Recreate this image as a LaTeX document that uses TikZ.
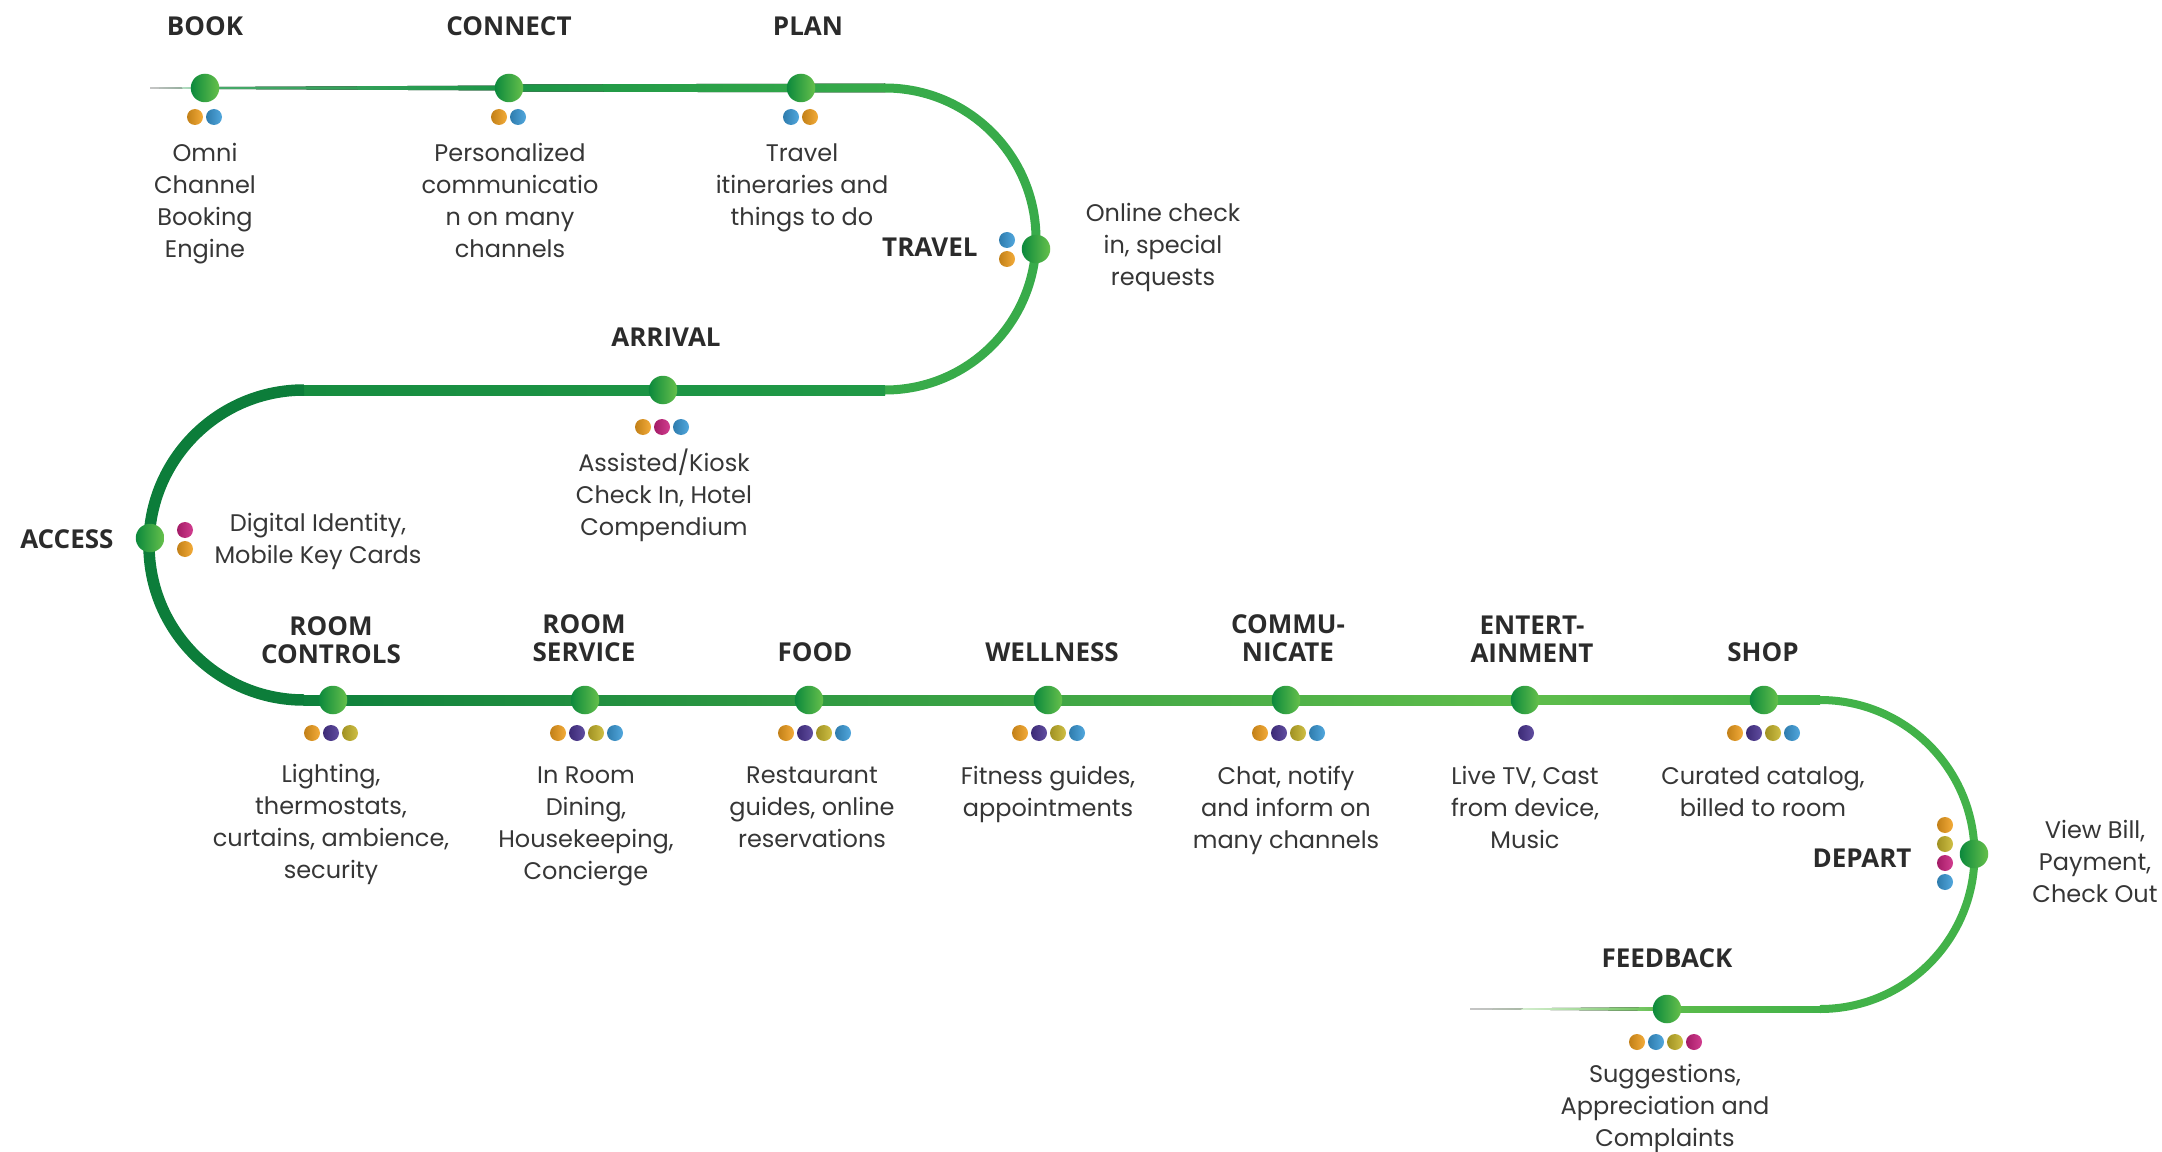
\documentclass[tikz,border=0pt]{standalone}
\usepackage{fontspec}
\setmainfont{Poppins}
\newfontfamily\headfont{Open Sans}
\usetikzlibrary{calc}
\definecolor{txt}{HTML}{363636}
\definecolor{head}{HTML}{2B2B2B}
\definecolor{nodeD}{HTML}{0B893C}
\definecolor{nodeL}{HTML}{66C04B}
\definecolor{cor}{HTML}{F2A01E}
\definecolor{cbl}{HTML}{3A9BD8}
\definecolor{cmg}{HTML}{CC2380}
\definecolor{cpu}{HTML}{4B3593}
\definecolor{col}{HTML}{C8B62B}
\definecolor{gA}{HTML}{1B9546}
\definecolor{gB}{HTML}{38AB4A}
\definecolor{gDark}{HTML}{0C7D3A}
\definecolor{gMid}{HTML}{168C40}
\definecolor{gLight}{HTML}{5FBD4B}
\definecolor{gR}{HTML}{42B249}
\tikzset{
  stopnode/.style={circle, inner sep=0pt, minimum size=11.4pt, left color=nodeD, right color=nodeL, draw=none},
  dotnode/.style={circle, inner sep=0pt, minimum size=6.4pt, draw=none},
  desc/.style={inner sep=0pt, align=center, text=txt, font=\fontsize{9.6pt}{12.8pt}\selectfont},
  heading/.style={inner sep=0pt, align=center, text=head, font=\headfont\bfseries\fontsize{10.4pt}{11.2pt}\selectfont},
}
\newcommand\hdotrow[4]{\foreach \c [count=\i] in {#4} {\node[dotnode, left color=\c!80!black, right color=\c!88!white] (#1-\i) at ({#2+(\i-1)*19},#3) {};}}
\newcommand\vdotrow[4]{\foreach \c [count=\i] in {#4} {\node[dotnode, left color=\c!80!black, right color=\c!88!white] (#1-\i) at (#2,{#3+(\i-1)*19}) {};}}
\begin{document}
\begin{tikzpicture}[x=0.4pt,y=-0.4pt]
\path[use as bounding box] (0,0) rectangle (2162,1152);
% path coordinates
\coordinate (tstart) at (150,88);
\coordinate (tarc) at (885,88);
\coordinate (marc) at (885,390);
\coordinate (marcL) at (304,390);
\coordinate (barcL) at (304,700);
\coordinate (barcR) at (1820,700);
\coordinate (farcR) at (1820,1009);
\coordinate (fend) at (1470,1009);
\coordinate (bookp) at (205,88);
\coordinate (connectp) at (509,88);
\coordinate (entp) at (1525,700);
\coordinate (feedp) at (1667,1009);
% line pieces
\fill[left color=white, right color=gA!55!white] ($(tstart)+(0,-0.4)$) -- ($(bookp)+(0,-1)$) -- ($(bookp)+(0,1)$) -- ($(tstart)+(0,0.4)$) -- cycle;
\fill[left color=gA!80!white, right color=gA] ($(bookp)+(0,-1)$) -- ($(connectp)+(0,-2.5)$) -- ($(connectp)+(0,2.5)$) -- ($(bookp)+(0,1)$) -- cycle;
\fill[left color=gA, right color=gB] ($(connectp)+(0,-3.5)$) -- ($(tarc)+(0,-4.5)$) -- ($(tarc)+(0,4.5)$) -- ($(connectp)+(0,3.5)$) -- cycle;
\draw[gB, line width=3.6pt] (tarc) arc[start angle=90, end angle=-90, radius=60.4pt];
\fill[left color=gMid, right color=gA!80!gB] ($(marcL)+(0,-5)$) rectangle ($(marc)+(0,5)$);
\draw[gDark, line width=4.6pt] (marcL) arc[start angle=90, end angle=270, radius=62pt];
\fill[left color=gDark!85!gA, right color=gLight] ($(barcL)+(0,-5)$) rectangle ($(entp)+(0,5)$);
\fill[left color=gLight, right color=gR] ($(entp)+(0,-5)$) rectangle ($(barcR)+(0,4.5)$);
\draw[gR, line width=3.2pt] (barcR) arc[start angle=90, end angle=-90, radius=61.8pt];
\fill[left color=gLight!90!gR, right color=gR] ($(feedp)+(0,-3)$) rectangle ($(farcR)+(0,3.8)$);
\fill[left color=white, right color=gLight] ($(fend)+(0,-0.3)$) -- ($(feedp)+(0,-2)$) -- ($(feedp)+(0,2)$) -- ($(fend)+(0,0.3)$) -- cycle;
% stops
\node[stopnode] (book) at (205,88) {};
\node[stopnode] (connect) at (509,88) {};
\node[stopnode] (plan) at (801,88) {};
\node[stopnode] (travel) at (1036,249) {};
\node[stopnode] (arrival) at (663,390) {};
\node[stopnode] (access) at (150,538) {};
\node[stopnode] (roomc) at (333,700) {};
\node[stopnode] (rooms) at (585,700) {};
\node[stopnode] (food) at (809,700) {};
\node[stopnode] (well) at (1048,700) {};
\node[stopnode] (comm) at (1286,700) {};
\node[stopnode] (ent) at (1525,700) {};
\node[stopnode] (shop) at (1764,700) {};
\node[stopnode] (depart) at (1974,854) {};
\node[stopnode] (feedback) at (1667,1009) {};
% dots
\hdotrow{bookd}{195}{117}{cor,cbl}
\hdotrow{connectd}{499}{117}{cor,cbl}
\hdotrow{pland}{791}{117}{cbl,cor}
\vdotrow{traveld}{1007}{240}{cbl,cor}
\hdotrow{arrivald}{643}{427}{cor,cmg,cbl}
\vdotrow{accessd}{185}{530}{cmg,cor}
\hdotrow{roomcd}{312}{733}{cor,cpu,col}
\hdotrow{roomsd}{558}{733}{cor,cpu,col,cbl}
\hdotrow{foodd}{786}{733}{cor,cpu,col,cbl}
\hdotrow{welld}{1020}{733}{cor,cpu,col,cbl}
\hdotrow{commd}{1260}{733}{cor,cpu,col,cbl}
\hdotrow{entd}{1526}{733}{cpu}
\hdotrow{shopd}{1735}{733}{cor,cpu,col,cbl}
\vdotrow{departd}{1945}{825}{cor,col,cmg,cbl}
\hdotrow{feedbackd}{1637}{1042}{cor,cbl,col,cmg}
% headings
\node[heading, anchor=south] (bookh) at (205,36) {BOOK};
\node[heading, anchor=south] (connecth) at (509,36) {CONNECT};
\node[heading, anchor=south] (planh) at (808,36) {PLAN};
\node[heading, anchor=south east] (travelh) at (978,257) {TRAVEL};
\node[heading, anchor=south] (arrivalh) at (666,347) {ARRIVAL};
\node[heading, anchor=south east] (accessh) at (114,549) {ACCESS};
\node[heading, anchor=south] (roomch) at (331,664) {ROOM\\CONTROLS};
\node[heading, anchor=south] (roomsh) at (584,662) {ROOM\\SERVICE};
\node[heading, anchor=south] (foodh) at (815,662) {FOOD};
\node[heading, anchor=south] (wellh) at (1052,662) {WELLNESS};
\node[heading, anchor=south] (commh) at (1288,662) {COMMU-\\NICATE};
\node[heading, anchor=south] (enth) at (1532,663) {ENTERT-\\AINMENT};
\node[heading, anchor=south] (shoph) at (1763,662) {SHOP};
\node[heading, anchor=south east] (departh) at (1912,868) {DEPART};
\node[heading, anchor=south] (feedbackh) at (1667,968) {FEEDBACK};
% descriptions
\node[desc, anchor=north] (bookt) at (205,143) {Omni\\Channel\\Booking\\Engine};
\node[desc, anchor=north] (connectt) at (510,143) {Personalized\\communicatio\\n on many\\channels};
\node[desc, anchor=north] (plant) at (802,143) {Travel\\itineraries and\\things to do};
\node[desc, anchor=north] (travelt) at (1163,203) {Online check\\in, special\\requests};
\node[desc, anchor=north] (arrivalt) at (664,448) {Assisted/Kiosk\\Check In, Hotel\\Compendium};
\node[desc, anchor=north] (accesst) at (318,513) {Digital Identity,\\Mobile Key Cards};
\node[desc, anchor=north] (roomct) at (331,764) {Lighting,\\thermostats,\\curtains, ambience,\\security};
\node[desc, anchor=north] (roomst) at (586,766) {In Room\\Dining,\\Housekeeping,\\Concierge};
\node[desc, anchor=north] (foodt) at (812,766) {Restaurant\\guides, online\\reservations};
\node[desc, anchor=north] (wellt) at (1048,766) {Fitness guides,\\appointments};
\node[desc, anchor=north] (commt) at (1286,766) {Chat, notify\\and inform on\\many channels};
\node[desc, anchor=north] (entt) at (1525,766) {Live TV, Cast\\from device,\\Music};
\node[desc, anchor=north] (shopt) at (1763,766) {Curated catalog,\\billed to room};
\node[desc, anchor=north] (departt) at (2095,820) {View Bill,\\Payment,\\Check Out};
\node[desc, anchor=north] (feedbackt) at (1665,1064) {Suggestions,\\Appreciation and\\Complaints};
\end{tikzpicture}
\end{document}
